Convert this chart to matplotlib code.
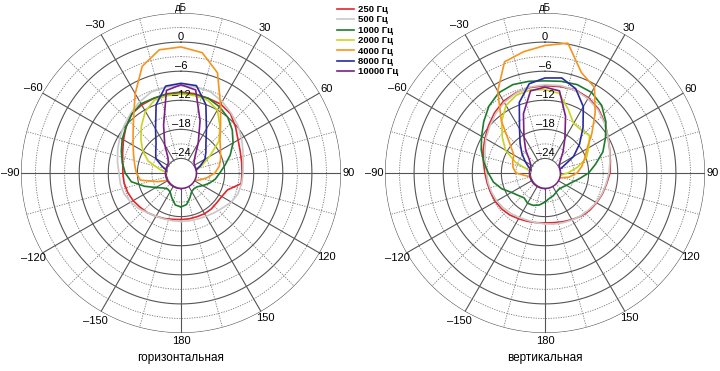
import numpy as np
import matplotlib
matplotlib.use('Agg')
import matplotlib.pyplot as plt

plt.rcParams['font.family'] = ['Liberation Sans', 'DejaVu Sans']

# angles in degrees, 0 = front, clockwise positive
angles = np.arange(-180, 181, 10)

labels = ['250 Гц', '500 Гц', '1000 Гц', '2000 Гц', '4000 Гц', '8000 Гц', '10000 Гц']
colors = ['#e3262b', '#c8c8c8', '#1f7a2e', '#c9d31f', '#f7941d', '#2a2aa0', '#7b1f88']

# horizontal plane, dB
h250 = [-17.4, -17.3, -17.0, -16.7, -16.3, -16.0, -15.6, -15.3, -15.1, -15.0, -14.8, -14.2, -13.3, -12.2, -11.1, -10.8, -10.6, -10.4,
        -10.3, -10.4, -10.6, -10.6, -11.1, -12.3, -13.4, -14.0, -14.3, -14.4, -14.4, -16.8, -17.3, -17.4, -17.3, -17.3, -17.4, -17.4, -17.4]
h500 = [-17.0, -17.0, -16.9, -16.7, -16.3, -15.6, -15.0, -14.5, -14.3, -14.2, -13.7, -13.1, -12.4, -11.7, -10.9, -10.0, -9.2, -9.0,
        -9.0, -9.0, -9.2, -10.0, -10.9, -11.7, -12.6, -13.4, -14.0, -14.2, -14.3, -14.5, -15.0, -15.8, -16.3, -16.7, -16.9, -17.0, -17.0]
h1000 = [-20.0, -20.3, -21.5, -22.5, -22.7, -22.2, -21.0, -19.0, -16.6, -15.5, -14.7, -13.9, -13.0, -12.2, -11.2, -10.5, -10.6, -10.5,
         -10.5, -10.6, -10.6, -11.2, -12.0, -13.2, -14.6, -16.2, -17.8, -19.0, -19.8, -20.8, -21.8, -22.6, -22.8, -22.6, -21.6, -20.4, -20.0]
h2000 = [-24.5, -24.5, -24.5, -24.5, -24.5, -24.5, -24.5, -24.5, -24.5, -24.2, -22.5, -19.8, -17.9, -16.2, -14.3, -12.3, -11.0, -10.8,
         -10.7, -10.8, -11.0, -12.0, -14.5, -16.8, -20.2, -22.4, -23.8, -24.3, -24.5, -24.5, -24.5, -24.5, -24.5, -24.5, -24.5, -24.5, -24.5]
h4000 = [-24.5, -24.5, -24.5, -24.5, -24.5, -24.5, -24.0, -21.8, -18.5, -17.8, -17.3, -16.6, -15.6, -14.1, -11.8, -8.1, -3.6, -1.2,
         -1.0, -1.8, -5.0, -10.7, -14.3, -16.5, -17.6, -18.3, -19.0, -20.0, -21.5, -22.8, -24.0, -24.5, -24.5, -24.5, -24.5, -24.5, -24.5]
h8000 = [-24.5, -24.5, -24.5, -24.5, -24.5, -24.5, -24.5, -24.5, -24.5, -24.5, -24.0, -22.8, -21.0, -20.2, -19.0, -16.5, -12.0, -8.8,
         -8.5, -8.7, -12.0, -16.5, -19.0, -20.3, -21.3, -22.8, -24.0, -24.5, -24.5, -24.5, -24.5, -24.5, -24.5, -24.5, -24.5, -24.5, -24.5]
h10000 = [-23.8, -23.8, -23.8, -23.8, -23.8, -23.8, -23.8, -23.8, -23.8, -23.8, -23.8, -23.8, -23.8, -23.6, -22.8, -20.3, -16.5, -9.7,
          -8.8, -9.6, -15.5, -19.9, -22.5, -23.5, -23.8, -23.8, -23.8, -23.8, -23.8, -23.8, -23.8, -23.8, -23.8, -23.8, -23.8, -23.8, -23.8]

# vertical plane, dB
v250 = [-16.7, -16.6, -16.4, -16.1, -15.7, -15.4, -15.2, -15.1, -14.9, -14.6, -14.1, -13.4, -12.7, -11.8, -10.8, -9.9, -9.4, -9.1,
        -9.0, -8.9, -8.7, -9.1, -9.8, -10.9, -12.0, -12.8, -13.3, -13.6, -14.1, -14.4, -14.7, -15.0, -15.4, -15.9, -16.3, -16.6, -16.7]
v500 = [-16.5, -16.6, -16.6, -16.4, -16.1, -15.8, -15.5, -15.3, -15.1, -14.9, -14.5, -13.8, -12.9, -12.1, -11.1, -10.2, -9.5, -9.0,
        -8.8, -8.7, -8.8, -9.3, -10.0, -11.0, -12.0, -12.8, -13.4, -13.8, -14.2, -14.5, -14.8, -15.2, -15.5, -15.8, -16.1, -16.3, -16.5]
v1000 = [-21.0, -20.3, -19.9, -19.8, -20.3, -19.8, -19.0, -17.5, -16.2, -15.3, -14.2, -13.0, -11.9, -10.5, -9.0, -7.9, -7.6, -7.8,
         -8.0, -7.8, -7.6, -7.8, -8.8, -10.6, -12.6, -14.3, -16.4, -18.0, -19.9, -21.2, -21.9, -22.4, -22.6, -22.4, -22.0, -21.7, -21.0]
v2000 = [-24.5, -24.5, -24.5, -24.5, -24.5, -24.5, -24.5, -24.5, -24.5, -24.3, -23.5, -20.5, -17.6, -15.5, -13.1, -10.9, -9.9, -9.6,
         -9.8, -10.3, -13.0, -15.2, -15.4, -15.0, -16.6, -17.9, -20.2, -22.3, -24.0, -24.5, -24.5, -24.5, -24.5, -24.5, -24.5, -24.5, -24.5]
v4000 = [-24.5, -24.5, -24.5, -24.5, -24.5, -24.5, -24.5, -24.3, -23.3, -21.0, -20.3, -19.9, -19.6, -17.5, -13.0, -7.5, -2.6, -1.6,
         -0.7, 0.2, -5.0, -6.6, -10.9, -14.4, -17.0, -18.3, -19.3, -20.4, -22.0, -24.0, -24.5, -24.5, -24.5, -24.5, -24.5, -24.5, -24.5]
v8000 = [-24.5, -24.5, -24.5, -24.5, -24.5, -24.5, -24.5, -24.5, -24.5, -24.5, -24.2, -23.4, -22.3, -20.8, -19.0, -16.5, -11.5, -8.3,
         -7.4, -7.1, -8.5, -11.2, -14.8, -17.7, -20.2, -23.0, -24.2, -24.5, -24.5, -24.5, -24.5, -24.5, -24.5, -24.5, -24.5, -24.5, -24.5]
v10000 = [-23.8, -23.8, -23.8, -23.8, -23.8, -23.8, -23.8, -23.8, -23.8, -23.8, -23.8, -23.8, -23.6, -22.8, -20.8, -18.3, -14.0, -9.8,
          -9.3, -9.8, -14.6, -18.8, -21.2, -22.8, -23.6, -23.8, -23.8, -23.8, -23.8, -23.8, -23.8, -23.8, -23.8, -23.8, -23.8, -23.8, -23.8]

horiz = [h250, h500, h1000, h2000, h4000, h8000, h10000]
vert = [v250, v500, v1000, v2000, v4000, v8000, v10000]

rmin, rmax = -27, 6
ring_labels = [0, -6, -12, -18, -24]
angle_labels = [30, 60, 90, 120, 150, 180, -150, -120, -90, -60, -30]


def fmt(v):
    return ('\u2013' + str(-v)) if v < 0 else str(v)


def draw(ax, curves, title, xc):
    ax.set_theta_zero_location('N')
    ax.set_theta_direction(-1)
    ax.set_ylim(rmin, rmax)
    ax.grid(False)
    ax.set_xticks([])
    ax.set_yticks([])
    ax.spines['polar'].set_visible(False)

    full = np.linspace(0, 2 * np.pi, 361)
    for r in range(-24, rmax + 1, 3):
        if r % 6 == 0:
            ax.plot(full, np.full_like(full, r), color='#555555', lw=0.8, zorder=1)
        else:
            ax.plot(full, np.full_like(full, r), color='#777777', lw=0.6, ls=(0, (1.5, 1.5)), zorder=1)
    for a in range(15, 360, 15):
        th = np.radians(a)
        if a % 30 == 0:
            ax.plot([th, th], [rmin, rmax], color='#555555', lw=0.8, zorder=1)
        else:
            ax.plot([th, th], [rmin, rmax], color='#777777', lw=0.6, ls=(0, (1.5, 1.5)), zorder=1)

    th = np.radians(angles)
    lines = []
    for vals, c in zip(curves, colors):
        ln, = ax.plot(th, vals, color=c, lw=1.2, zorder=3)
        lines.append(ln)

    # white hole in the middle
    ax.fill_between(full, rmin, -24.1, color='white', lw=0, zorder=4)

    for r in ring_labels:
        ax.text(0, r, fmt(r), ha='center', va='bottom', fontsize=8, zorder=5)
    ax.text(0, 7.1, 'дБ', ha='center', va='center', fontsize=7)
    for a in angle_labels:
        rr = 8.2 if a < 0 else 7.6
        ax.text(np.radians(a), rr, fmt(a), ha='center', va='center', fontsize=8)

    fig.text(xc / 720, 1 - 358 / 371, title, ha='center', va='center', fontsize=8.5)
    return lines


fig = plt.figure(figsize=(7.2, 3.71), dpi=100)
ax1 = fig.add_axes([20 / 720, 38 / 371, 322 / 720, 320 / 371], projection='polar')
ax2 = fig.add_axes([384 / 720, 38 / 371, 322 / 720, 320 / 371], projection='polar')

lines = draw(ax1, horiz, 'горизонтальная', 181)
draw(ax2, vert, 'вертикальная', 545)

fig.legend(lines, labels, loc='upper left', bbox_to_anchor=(337 / 720, 1 - 5 / 371),
           frameon=False, handlelength=1.8, handletextpad=0.4,
           labelspacing=0.15, borderpad=0, borderaxespad=0,
           prop={'size': 6.8, 'weight': 'bold'})

fig.savefig('out.png', dpi=100)
